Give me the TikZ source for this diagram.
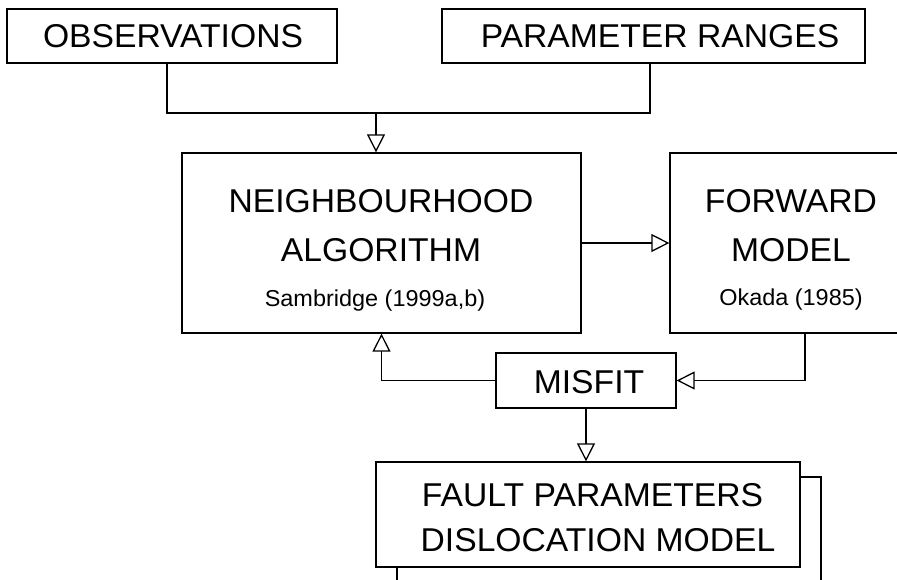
\documentclass[tikz,border=0pt]{standalone}
\usepackage{fontspec}
\setmainfont{Liberation Sans}[FakeStretch=1.02]
\usetikzlibrary{arrows.meta}
\tikzset{
  box/.style={draw, line width=1.3pt, fill=white, inner sep=0pt},
  big/.style={font=\fontsize{33}{38}\selectfont, anchor=base, inner sep=0pt},
  small/.style={font=\fontsize{23}{27}\selectfont, anchor=base, inner sep=0pt},
  conn/.style={line width=1.3pt},
  arr/.style={conn, -{Triangle[open, length=18pt, width=18pt, fill=white]}}
}
\begin{document}
\begin{tikzpicture}[x=1pt, y=-1pt]
\useasboundingbox (0,0) rectangle (897,580);
% boxes
\node[box, minimum width=330pt, minimum height=54pt] (obs) at (172,36) {};
\node[box, minimum width=423pt, minimum height=54pt] (pr) at (653.5,36) {};
\node[box, minimum width=399pt, minimum height=180pt] (na) at (381.5,243) {};
\node[box, minimum width=242pt, minimum height=180pt] (fm) at (791,243) {};
\node[box, minimum width=180pt, minimum height=55pt] (mis) at (586,380.5) {};
\node[box, minimum width=424pt, minimum height=105pt] (sh) at (609,529.5) {};
\node[box, minimum width=424pt, minimum height=105pt] (fault) at (588,514.5) {};
% texts
\node[big] (tobs) at (173,47.7) {OBSERVATIONS};
\node[big] (tpr) at (660,47.7) {PARAMETER RANGES};
\node[big] (tna1) at (381,212.7) {NEIGHBOURHOOD};
\node[big] (tna2) at (381,261.7) {ALGORITHM};
\node[small] (tna3) at (375,306.5) {Sambridge (1999a,b)};
\node[big] (tfm1) at (791,212.7) {FORWARD};
\node[big] (tfm2) at (791,261.7) {MODEL};
\node[small] (tfm3) at (791,305.5) {Okada (1985)};
\node[big] (tmis) at (589,393.3) {MISFIT};
\node[big] (tf1) at (592.5,506.7) {FAULT PARAMETERS};
\node[big] (tf2) at (598,551.7) {DISLOCATION MODEL};
% connectors
\coordinate (j1) at (167,113);
\coordinate (j2) at (650,113);
\coordinate (jm) at (376,113);
\draw[conn] (j1 |- obs.south) -- (j1) -- (j2) -- (j2 |- pr.south);
\draw[arr] (jm) -- (jm |- na.north);
\draw[arr] (na.east) -- (fm.west);
\coordinate (fmo) at (805,333);
\draw[arr] (fmo) |- (mis.east);
\draw[arr] (mis.west) -| (na.south);
\draw[arr] (mis.south) -- (mis.south |- fault.north);
\end{tikzpicture}
\end{document}
